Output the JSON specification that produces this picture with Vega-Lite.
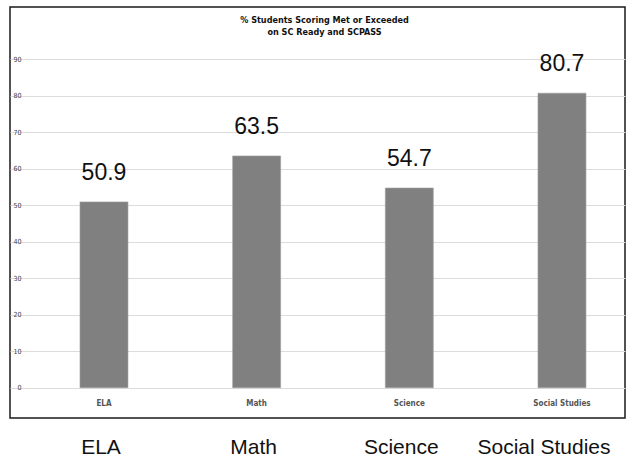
{
  "$schema": "https://vega.github.io/schema/vega-lite/v6.json",
  "autosize": {"type": "none"},
  "padding": {"left": 10, "top": 7, "right": 3, "bottom": 40},
  "width": 615,
  "height": 411,
  "background": "white",
  "config": {"view": {"stroke": "#1a1a1a", "strokeWidth": 1.5}},
  "title": {
    "text": ["% Students Scoring Met or Exceeded", "on SC Ready and SCPASS"],
    "font": "Liberation Sans Narrow, DejaVu Sans Condensed, sans-serif",
    "fontWeight": "bold",
    "fontSize": 9,
    "lineHeight": 12,
    "color": "#111111",
    "anchor": "middle",
    "offset": -30,
    "dx": 7
  },
  "data": {
    "values": [
      {"subject": "ELA", "pct": 50.9},
      {"subject": "Math", "pct": 63.5},
      {"subject": "Science", "pct": 54.7},
      {"subject": "Social Studies", "pct": 80.7}
    ]
  },
  "encoding": {
    "x": {
      "field": "subject",
      "type": "nominal",
      "sort": null,
      "scale": {"paddingInner": 0.6856, "paddingOuter": 0.357, "align": 0.642},
      "axis": {
        "title": null,
        "ticks": false,
        "domain": false,
        "grid": false,
        "labelAngle": 0,
        "labelFont": "Liberation Sans",
        "labelFontSize": 21,
        "labelColor": "#111111",
        "labelPadding": 18,
        "labelOverlap": false,
        "labelBound": false,
        "labelOffset": {
          "condition": [
            {"test": "datum.value === 'Social Studies'", "value": -18},
            {"test": "datum.value === 'Science'", "value": -8}
          ],
          "value": -3
        }
      }
    }
  },
  "layer": [
    {
      "mark": {"type": "bar", "color": "#808080", "stroke": "#a0a0a0", "strokeWidth": 0.6},
      "encoding": {
        "y": {
          "field": "pct",
          "type": "quantitative",
          "scale": {"domain": [-8.3, 104.3], "nice": false, "zero": false},
          "axis": {
            "title": null,
            "values": [0, 10, 20, 30, 40, 50, 60, 70, 80, 90],
            "offset": -17,
            "ticks": false,
            "domain": false,
            "grid": true,
            "gridColor": "#dcdcdc",
            "gridWidth": 1,
            "labelPadding": 6,
            "labelFont": "DejaVu Sans Condensed",
            "labelFontSize": 7,
            "labelColor": "#444444"
          }
        },
        "y2": {"datum": 0}
      }
    },
    {
      "mark": {"type": "text", "dy": -22, "baseline": "alphabetic", "fontSize": 23, "font": "Liberation Sans", "color": "#111111"},
      "encoding": {
        "y": {"field": "pct", "type": "quantitative"},
        "text": {"field": "pct", "type": "quantitative", "format": ".1f"}
      }
    },
    {
      "mark": {"type": "text", "fontSize": 8, "font": "DejaVu Sans Condensed", "fontWeight": "bold", "color": "#555555", "baseline": "middle"},
      "encoding": {
        "y": {"datum": -4.6},
        "text": {"field": "subject"}
      }
    }
  ]
}
